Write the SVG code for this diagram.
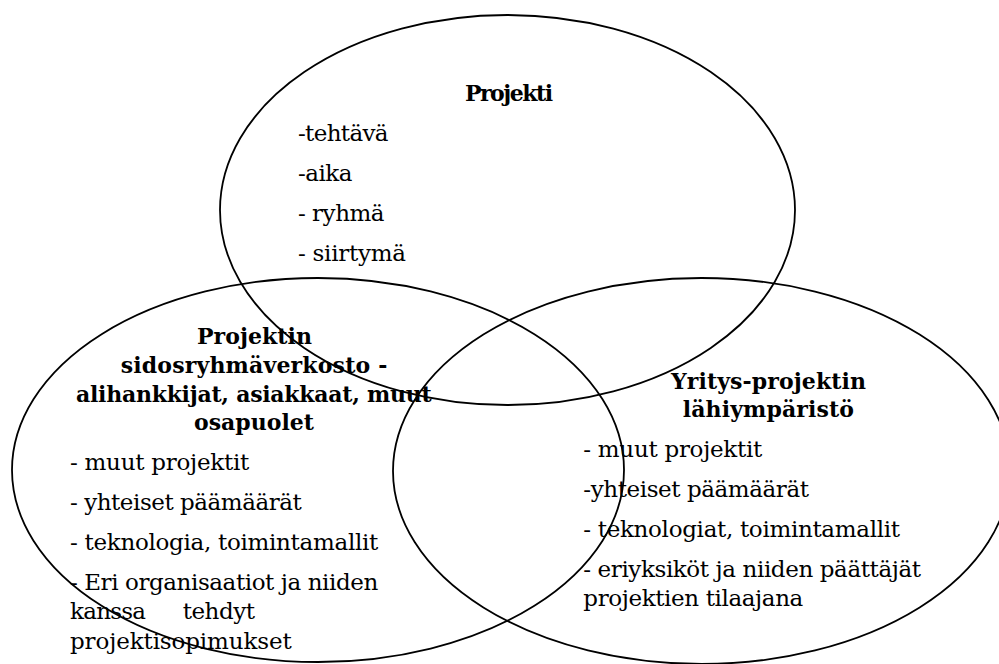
<svg xmlns="http://www.w3.org/2000/svg" width="999" height="664" viewBox="0 0 999 664">
<style>
.shape{fill:none;stroke:#000;stroke-width:1.8}
.t{font-family:"DejaVu Serif","Liberation Serif",serif;font-size:23px;fill:#000}
.b{font-family:"DejaVu Serif","Liberation Serif",serif;font-size:22px;font-weight:bold;fill:#000}
</style>
<rect width="999" height="664" fill="#fff"/>
<g id="projekti">
<ellipse class="shape" cx="507.5" cy="210" rx="287.5" ry="195"/>
<text class="b" x="465" y="100.5" textLength="88">Projekti</text>
<text class="t" x="298" y="140.5" textLength="90.5">-tehtävä</text>
<text class="t" x="298" y="180.5" textLength="54.5">-aika</text>
<text class="t" x="298" y="220.5" textLength="86.5">- ryhmä</text>
<text class="t" x="298" y="260.5" textLength="108">- siirtymä</text>
</g>
<g id="sidosryhmaverkosto">
<ellipse class="shape" cx="318" cy="470" rx="306" ry="192"/>
<text class="b" x="197" y="344" textLength="115">Projektin</text>
<text class="b" x="120.7" y="373" textLength="266.6">sidosryhmäverkosto -</text>
<text class="b" x="76" y="402" textLength="355.7">alihankkijat, asiakkaat, muut</text>
<text class="b" x="194" y="430" textLength="120">osapuolet</text>
<text class="t" x="70" y="469.5" textLength="179.3">- muut projektit</text>
<text class="t" x="70" y="509.5" textLength="231.7">- yhteiset päämäärät</text>
<text class="t" x="70" y="549.5" textLength="308.3">- teknologia, toimintamallit</text>
<text class="t" x="70" y="589.5" textLength="308.3">- Eri organisaatiot ja niiden</text>
<text class="t" x="70" y="618.5" textLength="76">kanssa</text>
<text class="t" x="182.7" y="618.5" textLength="72.3">tehdyt</text>
<text class="t" x="70" y="648.5" textLength="221.7">projektisopimukset</text>
</g>
<g id="lahiymparisto">
<ellipse class="shape" cx="701.5" cy="471" rx="308.5" ry="193"/>
<text class="b" x="671" y="388.5" textLength="195">Yritys-projektin</text>
<text class="b" x="682.7" y="417" textLength="171.3">lähiympäristö</text>
<text class="t" x="583.3" y="457" textLength="179">- muut projektit</text>
<text class="t" x="583.3" y="497" textLength="225.7">-yhteiset päämäärät</text>
<text class="t" x="583.3" y="537" textLength="316.7">- teknologiat, toimintamallit</text>
<text class="t" x="583.3" y="577" textLength="337.7">- eriyksiköt ja niiden päättäjät</text>
<text class="t" x="583.3" y="605.5" textLength="220">projektien tilaajana</text>
</g>
<g id="connectors"/>
</svg>
